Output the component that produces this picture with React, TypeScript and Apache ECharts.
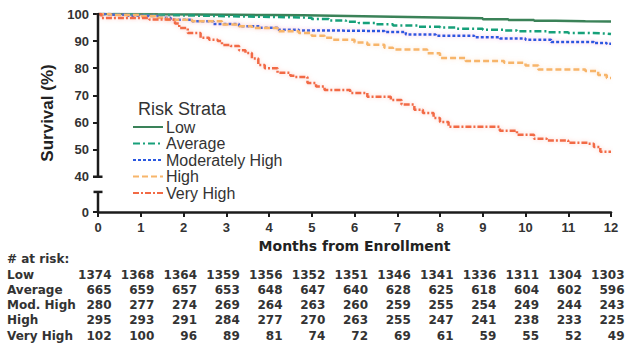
import React, { useEffect, useRef } from "react";
import * as echarts from "echarts";

// ---------- data ----------
const months = [0, 1, 2, 3, 4, 5, 6, 7, 8, 9, 10, 11, 12];
const seriesNames = ["Low", "Average", "Moderately High", "High", "Very High"];

const lowCurve = [
  [0, 100], [0.6, 99.9], [1.4, 99.8], [2.3, 99.7], [3.2, 99.6], [4.1, 99.5], [4.8, 99.4],
  [5.5, 99.2], [6.2, 99.0], [6.9, 98.8], [7.6, 98.6], [8.3, 98.4], [9.0, 98.1], [9.6, 97.8],
  [10.2, 97.5], [10.7, 97.3], [11.4, 97.2], [12, 97.1],
];
const averageCurve = [
  [0, 100], [0.4, 99.8], [1.0, 99.6], [1.6, 99.4], [2.3, 99.2], [3.0, 99.0], [3.8, 98.8],
  [4.5, 98.6], [5.0, 98.2], [5.4, 97.6], [5.8, 97.1], [6.1, 96.7], [6.5, 96.2], [6.9, 95.8],
  [7.5, 95.3], [8.0, 95.0], [8.4, 94.6], [9.0, 94.2], [9.5, 93.9], [9.8, 93.6], [10.5, 93.3],
  [11.0, 93.0], [11.5, 92.8], [11.9, 92.6], [12, 92.6],
];
const modHighCurve = [
  [0, 100], [0.3, 99.7], [0.7, 99.4], [1.0, 99.2], [1.4, 98.6], [1.7, 97.9], [2.2, 97.3],
  [2.7, 96.3], [3.3, 95.5], [3.8, 94.9], [4.2, 94.2], [4.7, 93.9], [5.6, 93.7], [6.7, 93.4],
  [7.2, 92.4], [7.9, 92.0], [8.8, 91.4], [9.4, 91.0], [10.0, 90.5], [10.6, 89.7], [11.6, 89.3],
  [11.9, 89.0], [12, 89.0],
];
const highCurve = [
  [0, 100], [0.3, 99.6], [1.0, 99.2], [1.4, 98.6], [1.6, 97.9], [2.2, 97.3], [2.9, 96.1],
  [3.3, 95.5], [3.6, 94.8], [4.2, 93.6], [4.7, 93.0], [5.0, 92.0], [5.3, 91.2], [5.5, 90.5],
  [6.0, 89.5], [6.3, 88.7], [6.7, 87.6], [6.9, 86.9], [7.4, 86.9], [7.7, 85.5], [8.0, 83.8],
  [8.6, 82.7], [9.5, 82.0], [10.0, 81.0], [10.3, 79.5], [11.4, 79.0], [11.7, 77.5], [11.9, 76.4],
  [12, 76.4],
];
const veryHighCurve = [
  [0, 100], [0.08, 98.5], [1.2, 98.0], [1.7, 97.9], [1.8, 96.5], [1.9, 94.8], [2.1, 93.0],
  [2.4, 91.2], [2.6, 90.5], [2.8, 90.0], [2.9, 88.6], [3.1, 88.2], [3.3, 86.6], [3.45, 85.6],
  [3.6, 83.6], [3.75, 81.2], [3.9, 80.0], [4.2, 78.3], [4.5, 77.2], [4.6, 76.8], [4.9, 74.6],
  [5.1, 73.3], [5.3, 72.0], [5.9, 70.9], [6.3, 69.5], [6.85, 68.3], [7.1, 66.6], [7.4, 64.7],
  [7.6, 63.5], [7.85, 61.7], [8.0, 60.2], [8.2, 58.4], [9.1, 58.4], [9.4, 57.0], [9.8, 55.5],
  [10.2, 54.0], [10.5, 53.4], [11.0, 52.5], [11.45, 52.2], [11.6, 51.0], [11.75, 49.2], [12, 49.2],
];

const riskLabels = ["Low", "Average", "Mod. High", "High", "Very High"];
const riskLow = [1374, 1368, 1364, 1359, 1356, 1352, 1351, 1346, 1341, 1336, 1311, 1304, 1303];
const riskAverage = [665, 659, 657, 653, 648, 647, 640, 628, 625, 618, 604, 602, 596];
const riskModHigh = [280, 277, 274, 269, 264, 263, 260, 259, 255, 254, 249, 244, 243];
const riskHigh = [295, 293, 291, 284, 277, 270, 263, 255, 247, 241, 238, 233, 225];
const riskVeryHigh = [102, 100, 96, 89, 81, 74, 72, 69, 61, 59, 55, 52, 49];

// broken y axis: bottom value drawn as "0"
const yAxisBottom = 27;
const yBreakTop = 34.4;
const yTicks = [27, 40, 50, 60, 70, 80, 90, 100];

// ---------- styles ----------
const AXIS = "#1c1c1c";
const TXT = "#333333";
const BOLD_FONT = "'Liberation Sans', Arial, sans-serif";
const WIDE_FONT = "'DejaVu Sans', sans-serif";

const curves = [lowCurve, averageCurve, modHighCurve, highCurve, veryHighCurve];
const colors = ["#3a8259", "#17a07a", "#2a58e0", "#f7b56b", "#f26a45"];
const dashes: any[] = ["solid", [7, 3, 2, 3], [3, 2], [6, 3], [6, 2, 2, 2]];
const glow = ["rgba(0,0,0,0)", "rgba(0,0,0,0)", "rgba(230,120,200,0.45)", "rgba(250,200,150,0.5)", "rgba(250,150,130,0.45)"];

export default function App() {
  const ref = useRef<HTMLDivElement>(null);

  useEffect(() => {
    if (!ref.current) return;
    const chart = echarts.init(ref.current, null, { renderer: "svg" });

    const series = curves.map((c, i) => ({
      name: seriesNames[i],
      type: "line",
      step: "end",
      data: c,
      symbol: "none",
      lineStyle: {
        color: colors[i],
        width: 2.5,
        type: dashes[i],
        shadowColor: glow[i],
        shadowBlur: 4,
      },
      itemStyle: { color: colors[i] },
      z: 2 + i,
    }));

    chart.setOption({
      animation: false,
      title: {
        text: "Risk Strata",
        left: 133,
        top: 95,
        textStyle: { fontFamily: BOLD_FONT, fontSize: 18, fontWeight: "normal", color: TXT },
      },
      legend: {
        orient: "vertical",
        left: 127,
        top: 114,
        itemWidth: 30,
        itemHeight: 14,
        itemGap: 0.5,
        data: seriesNames,
        selectedMode: false,
        itemStyle: { opacity: 0 },
        textStyle: { fontFamily: BOLD_FONT, fontSize: 16, color: TXT, padding: [0, 0, 0, -2] },
      },
      grid: { left: 98, right: 14, top: 14, bottom: 137, containLabel: false },
      xAxis: {
        type: "value",
        min: 0,
        max: 12,
        interval: 1,
        name: "Months from Enrollment",
        nameLocation: "middle",
        nameGap: 25,
        nameTextStyle: { fontFamily: WIDE_FONT, fontSize: 14, fontWeight: "bold", color: "#222" },
        axisLine: { show: true, lineStyle: { color: AXIS, width: 2.5 } },
        axisTick: { show: true, length: 5, lineStyle: { color: AXIS, width: 2 } },
        axisLabel: { margin: 9, fontFamily: BOLD_FONT, fontSize: 13, fontWeight: "bold", color: TXT },
        splitLine: { show: false },
      },
      yAxis: {
        type: "value",
        min: yAxisBottom,
        max: 100,
        name: "Survival (%)",
        nameLocation: "middle",
        nameGap: 37,
        nameTextStyle: { fontFamily: BOLD_FONT, fontSize: 17, fontWeight: "bold", color: "#222" },
        axisLine: { show: false },
        axisTick: {
          show: true,
          length: 5,
          customValues: yTicks,
          lineStyle: { color: AXIS, width: 2 },
        },
        axisLabel: {
          margin: 9,
          customValues: yTicks,
          fontFamily: BOLD_FONT,
          fontSize: 13,
          fontWeight: "bold",
          color: TXT,
          formatter: (v: number) => (v === yAxisBottom ? "0" : String(v)),
        },
        splitLine: { show: false },
      },
      series,
    });

    // broken y-axis line + at-risk table
    const ax = chart.convertToPixel({ xAxisIndex: 0 }, 0) as number;
    const yPx = (v: number) => chart.convertToPixel({ yAxisIndex: 0 }, v) as number;
    const y100 = yPx(100);
    const y40 = yPx(40);
    const yBrk = yPx(yBreakTop);
    const y0 = yPx(yAxisBottom);
    const axStyle = { stroke: AXIS, lineWidth: 2.5 };

    const graphics: any[] = [
      { type: "line", shape: { x1: ax, y1: y100 - 1, x2: ax, y2: y40 }, style: axStyle, z: 10 },
      { type: "line", shape: { x1: ax - 5, y1: y40, x2: ax + 4.5, y2: y40 }, style: axStyle, z: 10 },
      { type: "line", shape: { x1: ax - 4.5, y1: yBrk, x2: ax + 4.5, y2: yBrk }, style: axStyle, z: 10 },
      { type: "line", shape: { x1: ax, y1: yBrk, x2: ax, y2: y0 }, style: axStyle, z: 10 },
    ];

    const tableFont = `bold 12px ${WIDE_FONT}`;
    graphics.push({
      type: "text",
      x: 7,
      y: 259,
      style: { text: "# at risk:", font: tableFont, fill: TXT, verticalAlign: "middle" },
    });
    const rows = [riskLow, riskAverage, riskModHigh, riskHigh, riskVeryHigh];
    rows.forEach((row, r) => {
      const ry = 274.5 + r * 15.3;
      graphics.push({
        type: "text",
        x: 7,
        y: ry,
        style: { text: riskLabels[r], font: tableFont, fill: TXT, verticalAlign: "middle" },
      });
      row.forEach((n, k) => {
        const px = chart.convertToPixel({ xAxisIndex: 0 }, months[k]) as number;
        graphics.push({
          type: "text",
          x: px + 13.5,
          y: ry,
          style: { text: String(n), font: tableFont, fill: TXT, align: "right", verticalAlign: "middle" },
        });
      });
    });

    chart.setOption({ graphic: graphics });

    return () => chart.dispose();
  }, []);

  return (
    <div
      ref={ref}
      style={{ position: "fixed", left: 0, top: 0, width: 625, height: 349, background: "#fff" }}
    />
  );
}
